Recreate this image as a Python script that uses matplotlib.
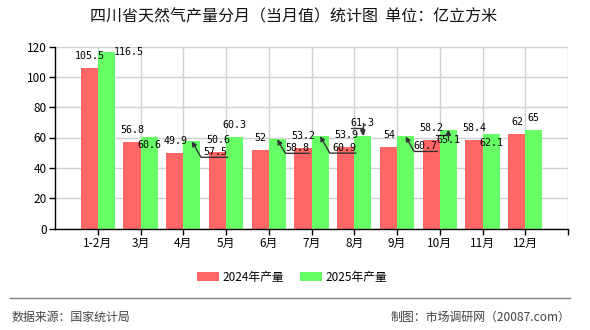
import matplotlib
matplotlib.use('Agg')
import matplotlib.pyplot as plt
from matplotlib.lines import Line2D

# data (亿立方米)
months = ['1-2月', '3月', '4月', '5月', '6月', '7月', '8月', '9月', '10月', '11月', '12月']
prod_2024 = [105.5, 56.8, 49.9, 50.6, 52, 53.2, 53.9, 54, 58.2, 58.4, 62]
prod_2025 = [116.5, 60.6, 57.5, 60.3, 58.8, 60.9, 61.3, 60.7, 65.1, 62.1, 65]
yticks = [0, 20, 40, 60, 80, 100, 120]

# label placement for the 2025 series (offset pixels from bar top, arrow kind)
off_2025 = [(22, 0), (0, -8), (24, -11), (0, 12), (20, -9), (24, -12),
            (0, 13), (20, -10), (0, -10), (0, -9), (0, 12)]
arrow_2025 = [None, None, 'diag', None, 'diag', 'diag', 'down', 'diag', 'up', None, None]

RED = '#ff6666'
GREEN = '#66ff66'
CJK = ['Noto Sans CJK SC', 'DejaVu Sans']
MONO = 'DejaVu Sans Mono'

fig = plt.figure(figsize=(5.9, 3.3), dpi=100)
ax = fig.add_axes([55 / 590, 1 - 228.5 / 330, 513 / 590, 182 / 330])

x = list(range(len(months)))
w = 0.4
b1 = ax.bar([i - w / 2 for i in x], prod_2024, width=w, color=RED, label='2024年产量', zorder=2)
b2 = ax.bar([i + w / 2 for i in x], prod_2025, width=w, color=GREEN, label='2025年产量', zorder=2)

ax.set_xlim(-1, len(months))
ax.set_ylim(0, 120)
ax.set_yticks(yticks)
ax.set_xticks(x + [len(months)])
ax.set_xticklabels(months + [''])
for lab in ax.get_xticklabels() + ax.get_yticklabels():
    lab.set_family(CJK)
    lab.set_fontsize(8.5)
ax.tick_params(axis='both', direction='out', length=4, width=1, color='black', pad=2)
ax.grid(True, color='#d0d0d0', lw=1, zorder=0)
ax.set_axisbelow(True)
for s in ['top', 'right']:
    ax.spines[s].set_visible(False)
for s in ['left', 'bottom']:
    ax.spines[s].set_linewidth(1)

# 2024 labels, all above the bars
for i, v in enumerate(prod_2024):
    ax.annotate(f'{v:g}', (i - w / 2, v), xytext=(0.5, 12), textcoords='offset pixels',
                ha='center', va='center', fontsize=7.2, family=MONO, zorder=5)

# 2025 labels, some moved aside with a pointer
for i, v in enumerate(prod_2025):
    xb = i + w / 2
    dx, dy = off_2025[i]
    kind = arrow_2025[i]
    txt = f'{v:g}'
    if kind is None:
        ax.annotate(txt, (xb, v), xytext=(dx, dy), textcoords='offset pixels',
                    ha='center', va='center', fontsize=7.2, family=MONO, zorder=5)
        continue
    if kind == 'diag':
        sides = [((1, 0), 'angle,angleA=0,angleB=120')]
    elif kind == 'down':
        sides = [((0, 0), 'angle,angleA=0,angleB=90'), ((1, 0), 'angle,angleA=0,angleB=90')]
    else:
        sides = [((0, 1), 'angle,angleA=0,angleB=90'), ((1, 1), 'angle,angleA=0,angleB=90')]
    for k, (rel, cs) in enumerate(sides):
        ax.annotate(txt if k == 0 else '', (xb, v), xytext=(dx, dy), textcoords='offset pixels',
                    ha='center', va='center', fontsize=7.2, family=MONO, zorder=5,
                    color='black' if k == 0 else (0, 0, 0, 0),
                    arrowprops=dict(arrowstyle='-|>', color='#333333', lw=1, mutation_scale=7,
                                    shrinkA=0, shrinkB=0, relpos=rel, patchA=None,
                                    connectionstyle=cs))

fig.text(294 / 590, 1 - 17 / 330, '四川省天然气产量分月（当月值）统计图  单位：亿立方米',
         ha='center', va='center', fontsize=11.5, family=CJK, color='#111111')

fig.legend(handles=[b1, b2], loc='center', bbox_to_anchor=(292 / 590, 1 - 277 / 330),
           ncol=2, frameon=False, prop={'family': CJK, 'size': 8.5},
           handlelength=1.85, handleheight=0.7, handletextpad=0.3, columnspacing=1.4)

fig.add_artist(Line2D([10 / 590, 570 / 590], [1 - 298 / 330] * 2, color='#808080', lw=1))
fig.text(12 / 590, 1 - 317 / 330, '数据来源：国家统计局', ha='left', va='center',
         fontsize=8.6, family=CJK, color='#444444')
fig.text(570 / 590, 1 - 317 / 330, '制图：市场调研网（20087.com）', ha='right', va='center',
         fontsize=8.6, family=CJK, color='#444444')

fig.savefig('out.png', dpi=100)
